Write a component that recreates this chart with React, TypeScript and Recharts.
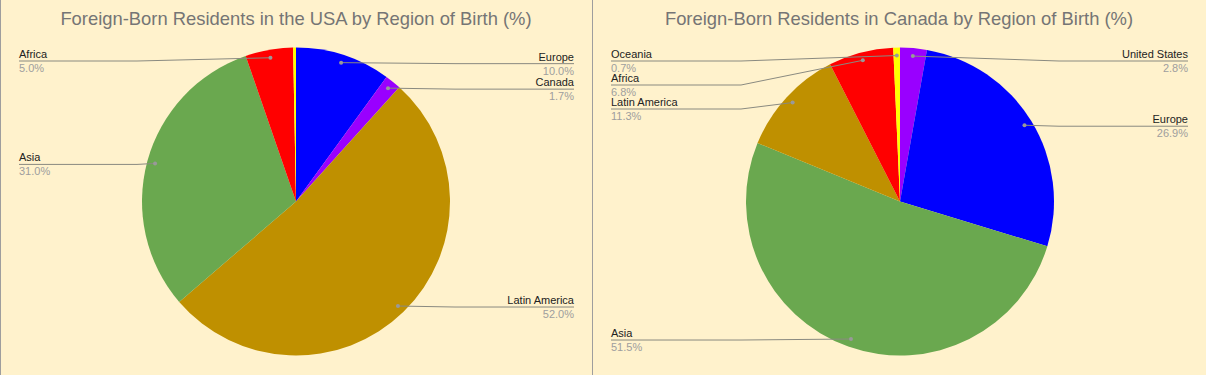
import { PieChart, Pie, Cell } from "recharts";

const usaRegions = ["Europe", "Canada", "Latin America", "Asia", "Africa", "Oceania"];
const usaShares = [10.0, 1.7, 52.0, 31.0, 5.0, 0.3];
const usaColors = ["#0000ff", "#9900ff", "#bf9000", "#6aa84f", "#ff0000", "#ffff00"];

const canadaRegions = ["United States", "Europe", "Asia", "Latin America", "Africa", "Oceania"];
const canadaShares = [2.8, 26.9, 51.5, 11.3, 6.8, 0.7];
const canadaColors = ["#9900ff", "#0000ff", "#6aa84f", "#bf9000", "#ff0000", "#ffff00"];

const RADIUS = 154;
const CY = 201.5;
const DOT_RATIO = 0.948;
const LABEL_TOP = 61;
const LABEL_GAP = 24;
const MIN_LABEL = 0.5;
const RAD = Math.PI / 180;

// google-charts style label placement: labels sit at their dot's height,
// pushed down when they would collide with the one above on the same side
function labelRows(shares: number[], cx: number, cy: number) {
  const total = shares.reduce((a, b) => a + b, 0);
  let acc = 0;
  const items = shares.map((v, i) => {
    const mid = (acc + v / 2) / total;
    acc += v;
    const theta = mid * 2 * Math.PI;
    const x = cx + RADIUS * DOT_RATIO * Math.sin(theta);
    const y = cy - RADIUS * DOT_RATIO * Math.cos(theta);
    return { i, x, y, left: x < cx, show: v >= MIN_LABEL };
  });
  const rows: number[] = new Array(shares.length).fill(0);
  [true, false].forEach((side) => {
    let prev = -Infinity;
    items
      .filter((d) => d.left === side && d.show)
      .sort((a, b) => a.y - b.y)
      .forEach((d) => {
        const y = Math.max(d.y + 1, prev + LABEL_GAP, LABEL_TOP);
        rows[d.i] = y;
        prev = y;
      });
  });
  return rows;
}

interface PanelProps {
  title: string;
  regions: string[];
  shares: number[];
  colors: string[];
  left: number;
  width: number;
}

function PiePanel({ title, regions, shares, colors, left, width }: PanelProps) {
  const cx = width / 2 + (width > 600 ? 1 : 0);
  const rows = labelRows(shares, cx, CY);
  const data = regions.map((name, i) => ({ name, value: shares[i] }));

  const renderLabel = (props: any) => {
    const { index, midAngle } = props;
    if (shares[index] < MIN_LABEL) return null;
    const pcx = props.cx ?? cx;
    const pcy = props.cy ?? CY;
    const R = RADIUS * DOT_RATIO;
    const dx = pcx + R * Math.cos(-midAngle * RAD);
    const dy = pcy + R * Math.sin(-midAngle * RAD);
    const isLeft = dx < pcx;
    const ly = rows[index];
    const textX = isLeft ? 19 : width - 18;
    const kinkX = isLeft ? pcx - RADIUS - 5 : pcx + RADIUS + 5;
    return (
      <g key={`lbl-${index}`}>
        <path
          d={`M${textX},${ly}L${kinkX},${ly}L${dx},${dy}`}
          stroke="#8a8a80"
          strokeWidth={1}
          fill="none"
        />
        <circle cx={dx} cy={dy} r={2} fill="#999999" />
        <text
          x={textX}
          y={ly - 3}
          textAnchor={isLeft ? "start" : "end"}
          fontSize={11}
          fill="#222222"
          fontFamily="'Liberation Sans', Arial, sans-serif"
        >
          {regions[index]}
        </text>
        <text
          x={textX}
          y={ly + 11}
          textAnchor={isLeft ? "start" : "end"}
          fontSize={11}
          fill="#9e9e9e"
          fontFamily="'Liberation Sans', Arial, sans-serif"
        >
          {shares[index].toFixed(1)}%
        </text>
      </g>
    );
  };

  return (
    <div
      style={{
        position: "absolute",
        left,
        top: 0,
        width,
        height: 375,
        borderLeft: "1px solid #9e9e9e",
        boxSizing: "border-box",
      }}
    >
      <div
        style={{
          position: "absolute",
          left: -1,
          top: 8,
          width,
          textAlign: "center",
          fontFamily: "'Liberation Sans', Arial, sans-serif",
          fontSize: 18.4,
          color: "#757575",
          lineHeight: "22px",
        }}
      >
        {title}
      </div>
      <div style={{ position: "absolute", left: -1, top: 0 }}>
        <PieChart
          width={width}
          height={375}
          margin={{ top: 0, right: 0, bottom: 0, left: 0 }}
        >
          <Pie
            data={data}
            dataKey="value"
            nameKey="name"
            cx={cx}
            cy={CY}
            outerRadius={RADIUS}
            startAngle={90}
            endAngle={-270}
            stroke="none"
            label={renderLabel}
            labelLine={false}
            isAnimationActive={false}
          >
            {data.map((d, i) => (
              <Cell key={`cell-${d.name}`} fill={colors[i]} />
            ))}
          </Pie>
        </PieChart>
      </div>
    </div>
  );
}

export default function App() {
  return (
    <div
      style={{
        position: "relative",
        width: 1206,
        height: 375,
        background: "#fff2cc",
        overflow: "hidden",
      }}
    >
      <style>{`body{margin:0}`}</style>
      <PiePanel
        title="Foreign-Born Residents in the USA by Region of Birth (%)"
        regions={usaRegions}
        shares={usaShares}
        colors={usaColors}
        left={0}
        width={592}
      />
      <PiePanel
        title="Foreign-Born Residents in Canada by Region of Birth (%)"
        regions={canadaRegions}
        shares={canadaShares}
        colors={canadaColors}
        left={592}
        width={614}
      />
    </div>
  );
}
